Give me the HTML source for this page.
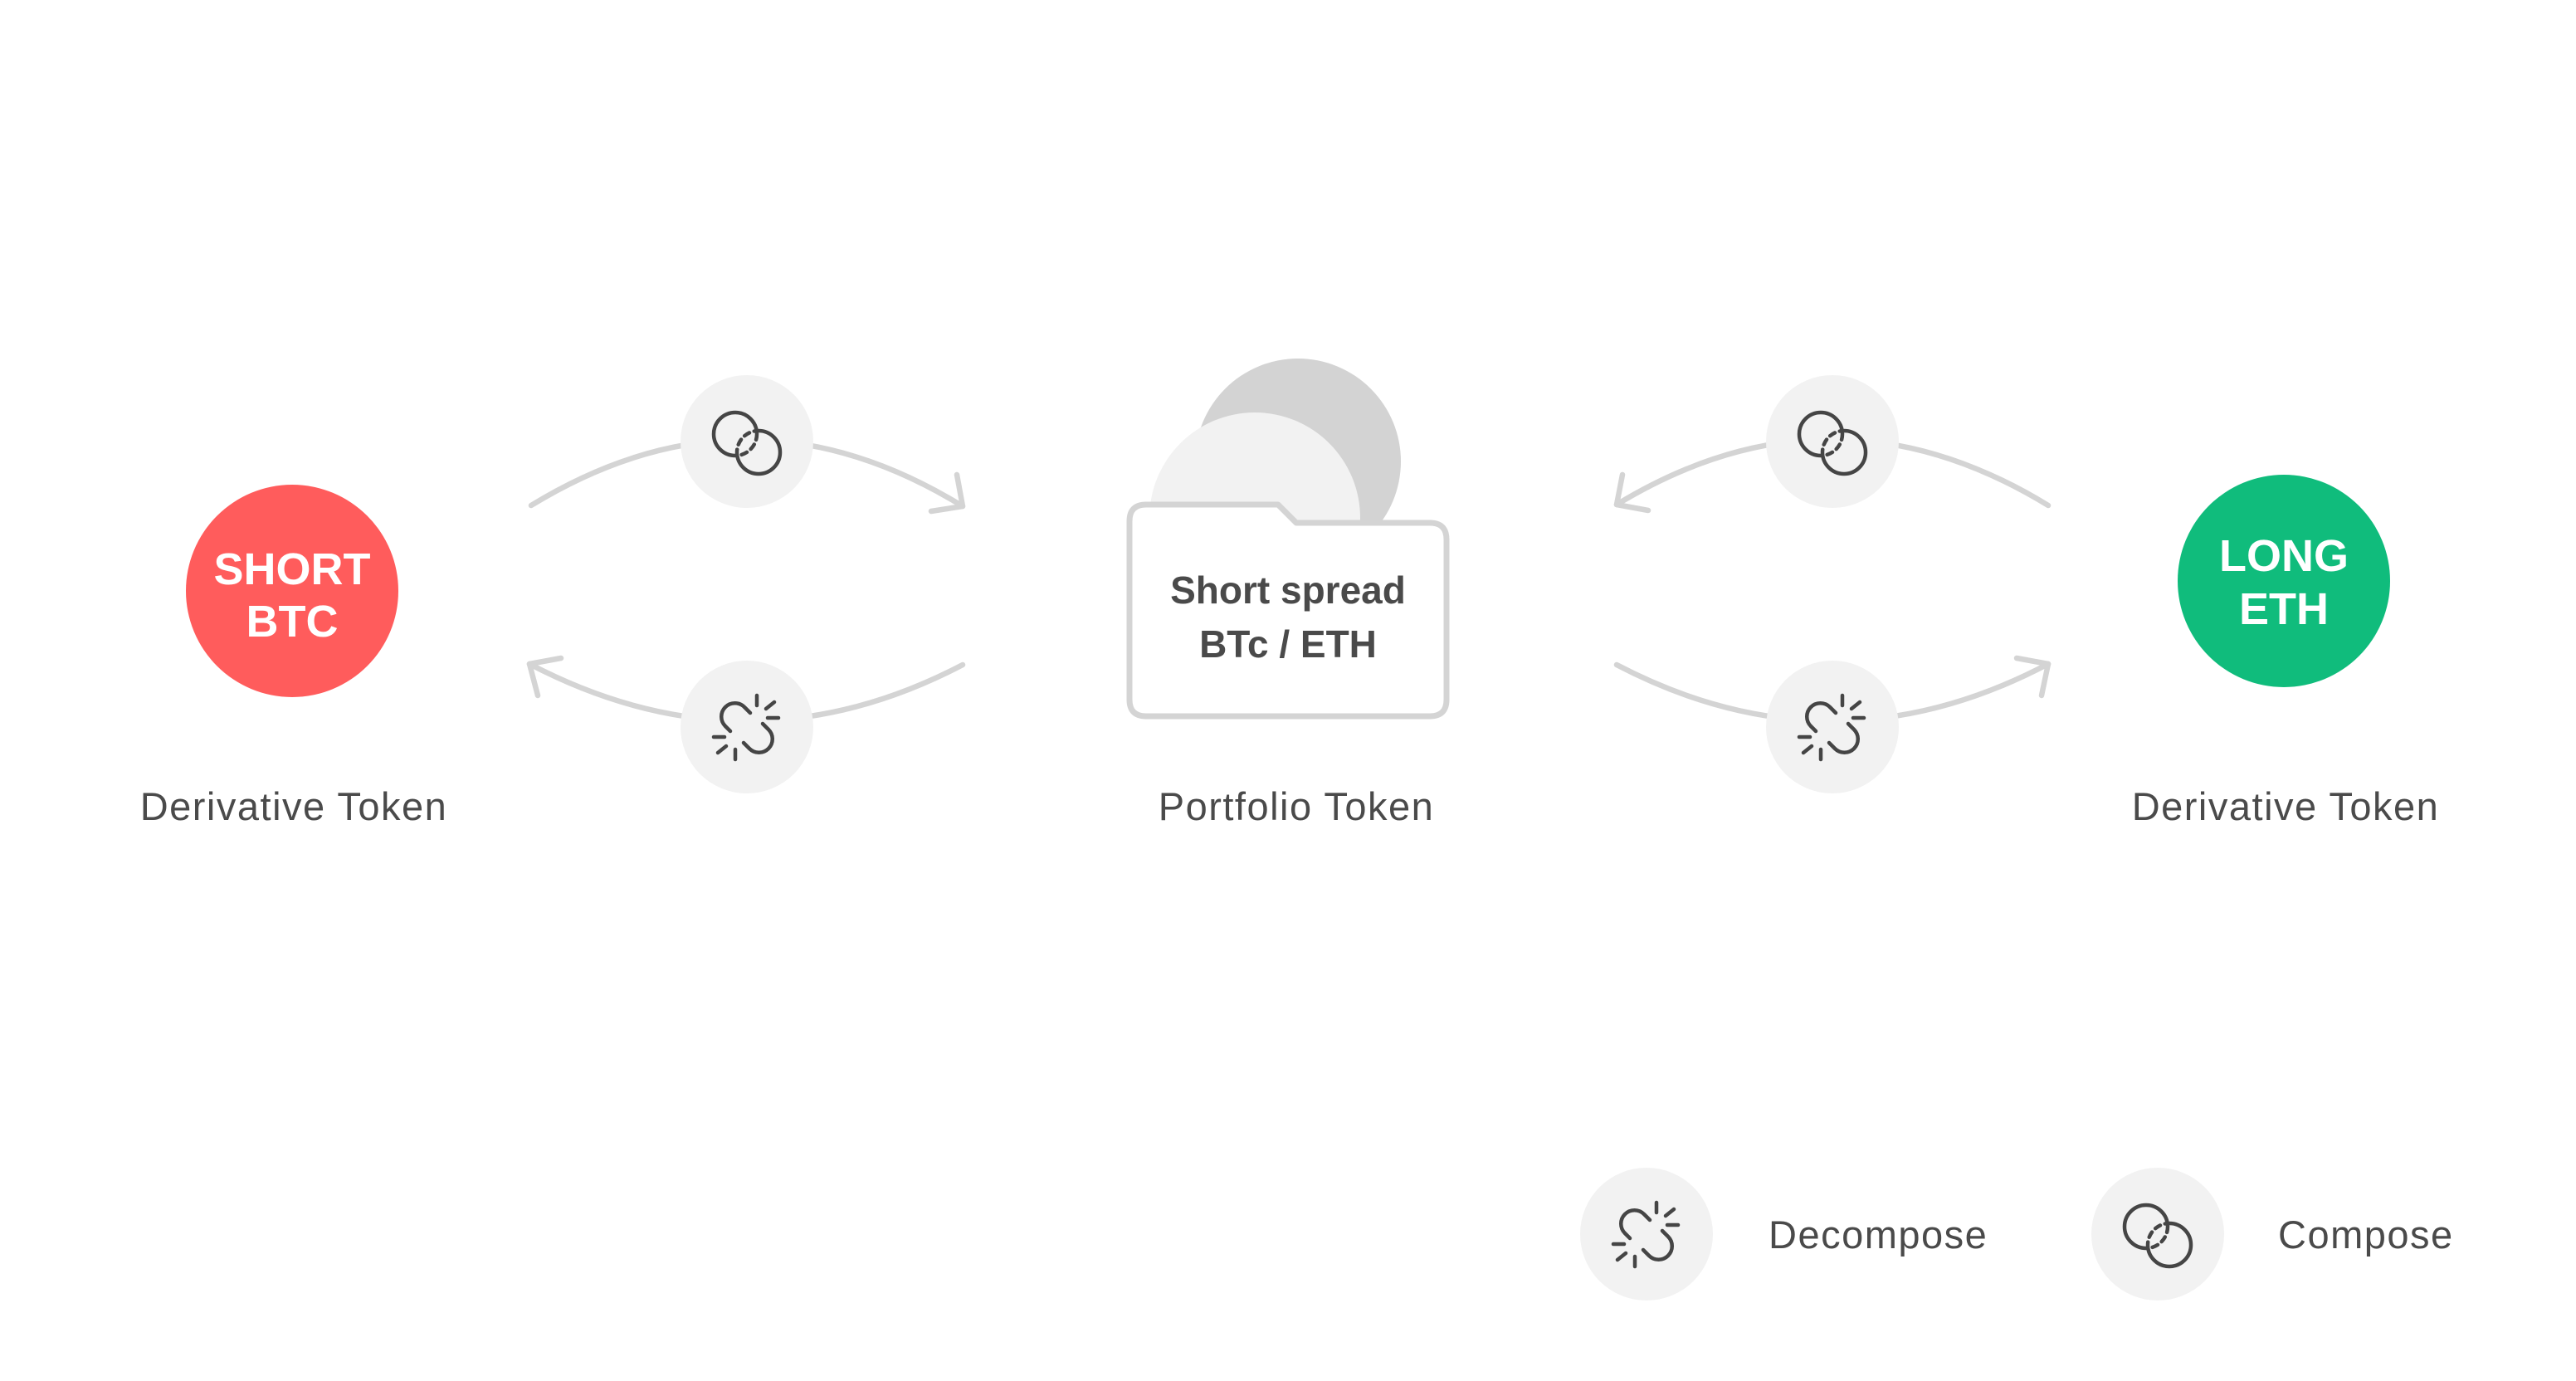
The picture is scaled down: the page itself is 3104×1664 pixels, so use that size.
<!DOCTYPE html>
<html><head><meta charset="utf-8"><style>
html,body{margin:0;padding:0;background:#fff;}
svg{display:block;}
text{font-family:"Liberation Sans",sans-serif;}
.lbl{letter-spacing:1.5px;}
</style></head><body>
<svg width="3104" height="1664" viewBox="0 0 3104 1664" xmlns="http://www.w3.org/2000/svg">
<defs>
<mask id="outB" maskUnits="userSpaceOnUse" x="-60" y="-60" width="120" height="120"><rect x="-60" y="-60" width="120" height="120" fill="#fff"/><circle cx="14" cy="13" r="26" fill="#000"/></mask>
<mask id="outA" maskUnits="userSpaceOnUse" x="-60" y="-60" width="120" height="120"><rect x="-60" y="-60" width="120" height="120" fill="#fff"/><circle cx="-14" cy="-9" r="26" fill="#000"/></mask>
<clipPath id="inB"><circle cx="14" cy="13" r="26"/></clipPath>
<clipPath id="inA"><circle cx="-14" cy="-9" r="26"/></clipPath>
<g id="compose" fill="none" stroke="#454545" stroke-width="4.5" stroke-linecap="round">
  <circle cx="-14" cy="-9" r="26" mask="url(#outB)"/>
  <circle cx="14" cy="13" r="26" mask="url(#outA)"/>
  <circle cx="-14" cy="-9" r="26" clip-path="url(#inB)" stroke-dasharray="7 6"/>
  <circle cx="14" cy="13" r="26" clip-path="url(#inA)" stroke-dasharray="7 6"/>
</g>
<g id="decompose" fill="none" stroke="#454545" stroke-width="4.5" stroke-linecap="round">
  <path d="M4,-17 L-3,-24 A16 16 0 0 0 -26,-1 L-20,5"/>
  <path d="M-4,19 L3,26 A16 16 0 0 0 26,3 L19,-4"/>
  <line x1="12" y1="-38" x2="12" y2="-26"/>
  <line x1="23" y1="-22" x2="33" y2="-30"/>
  <line x1="25" y1="-11" x2="38" y2="-11"/>
  <line x1="-40" y1="12" x2="-27" y2="12"/>
  <line x1="-35" y1="31" x2="-25" y2="23"/>
  <line x1="-14" y1="27" x2="-14" y2="39"/>
</g>
</defs>

<g fill="none" stroke="#d4d4d4" stroke-width="6.5" stroke-linecap="round" stroke-linejoin="round">
  <path d="M640,609 Q900,450 1160,610"/>
  <path d="M1122,616 L1160,610 L1153,572"/>
  <path d="M1160,801 Q900,937 638,800"/>
  <path d="M676,793 L638,800 L648,838"/>
  <path d="M2468,609 Q2208,450 1948,608"/>
  <path d="M1986,615 L1948,608 L1955,572"/>
  <path d="M1948,801 Q2208,937 2468,800"/>
  <path d="M2430,793 L2468,800 L2460,838"/>
</g>

<circle cx="900" cy="532" r="80" fill="#f2f2f2"/>
<circle cx="900" cy="876" r="80" fill="#f2f2f2"/>
<circle cx="2208" cy="532" r="80" fill="#f2f2f2"/>
<circle cx="2208" cy="876" r="80" fill="#f2f2f2"/>
<use href="#compose" transform="translate(900,532)"/>
<use href="#decompose" transform="translate(900,876)"/>
<use href="#compose" transform="translate(2208,532)"/>
<use href="#decompose" transform="translate(2208,876)"/>

<circle cx="352" cy="712" r="128" fill="#ff5c5c"/>
<text x="352" y="704" text-anchor="middle" font-size="54" font-weight="bold" fill="#fff">SHORT</text>
<text x="352" y="767" text-anchor="middle" font-size="54" font-weight="bold" fill="#fff">BTC</text>
<text class="lbl" x="354" y="988" text-anchor="middle" font-size="47" fill="#4a4a4a">Derivative Token</text>

<circle cx="2752" cy="700" r="128" fill="#10bc7c"/>
<text x="2752" y="688" text-anchor="middle" font-size="54" font-weight="bold" fill="#fff">LONG</text>
<text x="2752" y="752" text-anchor="middle" font-size="54" font-weight="bold" fill="#fff">ETH</text>
<text class="lbl" x="2754" y="988" text-anchor="middle" font-size="47" fill="#4a4a4a">Derivative Token</text>

<circle cx="1564" cy="556" r="124" fill="#d3d3d3"/>
<circle cx="1512" cy="624" r="127" fill="#f2f2f2"/>
<path d="M1381,608 L1540,608 L1562,630 L1723,630 Q1743,630 1743,650 L1743,843 Q1743,863 1723,863 L1381,863 Q1361,863 1361,843 L1361,628 Q1361,608 1381,608 Z" fill="#fff" stroke="#d4d4d4" stroke-width="7" stroke-linejoin="round"/>
<text x="1552" y="727" text-anchor="middle" font-size="46" font-weight="bold" fill="#4a4a4a">Short spread</text>
<text x="1552" y="792" text-anchor="middle" font-size="46" font-weight="bold" fill="#4a4a4a">BTc / ETH</text>
<text class="lbl" x="1562" y="988" text-anchor="middle" font-size="47" fill="#4a4a4a">Portfolio Token</text>

<circle cx="1984" cy="1487" r="80" fill="#f2f2f2"/>
<use href="#decompose" transform="translate(1984,1487)"/>
<text class="lbl" x="2131" y="1504" font-size="47" fill="#4a4a4a">Decompose</text>
<circle cx="2600" cy="1487" r="80" fill="#f2f2f2"/>
<use href="#compose" transform="translate(2600,1487)"/>
<text class="lbl" x="2745" y="1504" font-size="47" fill="#4a4a4a">Compose</text>
</svg>
</body></html>
